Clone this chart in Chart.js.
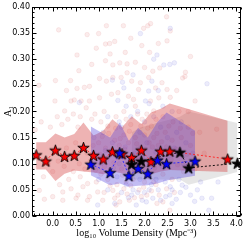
<!DOCTYPE html>
<html><head><meta charset="utf-8">
<script src="https://cdn.jsdelivr.net/npm/chart.js@4/dist/chart.umd.min.js"></script>
<style>html,body{margin:0;padding:0;background:#fff;overflow:hidden}</style>
</head><body><canvas id="c" width="249" height="240"></canvas>
<script>
// ---- data ----
const redX = [-0.36,-0.15,0.06,0.26,0.47,0.67,0.89,1.10,1.30,1.51,1.72,1.93,2.14,2.35,2.55,3.81];
const redY = [0.117,0.105,0.126,0.114,0.116,0.131,0.116,0.109,0.123,0.119,0.112,0.126,0.104,0.124,0.124,0.109];
const redHigh = [0.141,0.141,0.158,0.150,0.157,0.179,0.154,0.163,0.185,0.170,0.191,0.176,0.198,0.205,0.215,0.182];
const redLow  = [0.089,0.089,0.067,0.081,0.087,0.085,0.083,0.080,0.085,0.082,0.080,0.085,0.080,0.085,0.088,0.084];

const blueX = [0.83,1.25,1.46,1.66,1.86,2.07,2.28,2.48,3.10];
const blueY = [0.099,0.083,0.121,0.077,0.091,0.081,0.107,0.100,0.105];
const blueHigh = [0.171,0.150,0.179,0.144,0.169,0.150,0.180,0.198,0.163];
const blueLow  = [0.078,0.059,0.062,0.056,0.058,0.059,0.062,0.068,0.077];

const blackX = [1.72,1.93,2.77,2.96,4.02];
const blackY = [0.099,0.105,0.122,0.092,0.101];
const grayHigh = [0.160,0.170,0.190,0.200,0.178];
const grayLow  = [0.070,0.070,0.070,0.060,0.084];

const redDots = [
[0.13,0.356],[0.75,0.347],[1.00,0.349],[1.17,0.364],[1.15,0.329],[1.24,0.330],[1.35,0.334],[0.95,0.321],[0.53,0.308],[1.54,0.364],
[1.46,0.293],[1.31,0.289],[1.15,0.297],[0.57,0.278],[0.06,0.259],[0.39,0.259],[0.53,0.244],[0.69,0.246],[0.80,0.248],[1.02,0.263],
[1.17,0.258],[1.31,0.265],[1.49,0.265],[0.40,0.220],[0.47,0.222],[0.62,0.220],[0.80,0.220],[1.02,0.226],[1.28,0.233],[1.42,0.236],
[0.73,0.207],[0.26,0.201],[2.48,0.381],[2.13,0.368],[2.07,0.364],[1.98,0.359],[2.56,0.354],[2.49,0.335],[1.94,0.326],[1.58,0.313],
[2.11,0.313],[3.00,0.305],[1.62,0.291],[1.80,0.294],[2.00,0.284],[2.18,0.277],[2.33,0.283],[2.89,0.275],[2.88,0.267],[1.62,0.274],
[1.72,0.258],[1.91,0.255],[2.09,0.265],[2.24,0.245],[2.38,0.255],[2.49,0.242],[1.87,0.242],[1.65,0.229],[1.76,0.223],[2.13,0.220],
[2.31,0.226],[2.56,0.227],[1.80,0.210],[2.20,0.201],[2.83,0.264],
[-0.38,0.165],[-0.25,0.180],[-0.05,0.170],[0.10,0.190],[0.20,0.175],[0.33,0.185],[0.45,0.195],[0.55,0.170],[0.60,0.190],[0.85,0.185],
[0.92,0.195],[1.05,0.180],[1.12,0.200],[1.20,0.172],[1.38,0.190],[1.55,0.200],[1.60,0.185],[1.70,0.175],[1.85,0.195],[1.95,0.185],
[2.05,0.195],[2.15,0.172],[2.25,0.185],[2.40,0.190],[2.62,0.180],[2.75,0.200],[2.95,0.170],[3.20,0.160],[3.57,0.166],[0.30,0.130],
[0.50,0.140],[0.75,0.120],[1.00,0.140],[1.15,0.130],[1.35,0.145],[1.45,0.135],[1.55,0.155],[1.65,0.140],[1.80,0.150],[1.90,0.130],
[2.00,0.155],[2.10,0.140],[2.20,0.150],[2.30,0.135],[2.45,0.160],[2.60,0.145],[2.80,0.150],[3.00,0.135],[3.30,0.120],
[-0.40,0.095],[-0.20,0.075],[0.00,0.085],[0.15,0.060],[0.35,0.070],[0.60,0.075],[0.70,0.090],[0.95,0.065],[1.05,0.080],[1.20,0.070],
[1.40,0.060],[1.50,0.090],[1.60,0.065],[1.75,0.070],[1.85,0.085],[2.00,0.065],[2.10,0.075],[2.25,0.060],[2.40,0.080],[2.60,0.070],
[2.85,0.085],[3.10,0.090],
[-0.18,0.032],[0.00,0.037],[-0.29,0.049],[0.40,0.052],[0.55,0.040],[0.22,0.046],[0.66,0.056],[0.80,0.037],[0.98,0.046],[1.09,0.030],
[1.31,0.049],[1.46,0.027],[1.38,0.021],[0.76,0.062],[0.22,0.030],[0.51,0.034],[0.76,0.030],[1.35,0.034],[1.67,0.030],[1.93,0.037],
[2.55,0.011],[2.40,0.027],[2.27,0.024],
[0.82,0.105],[0.88,0.135],[0.93,0.088],[1.03,0.118],[1.08,0.152],[1.13,0.095],[1.18,0.108],[1.22,0.158],[1.27,0.125],[1.33,0.102],
[1.37,0.168],[1.42,0.112],[1.47,0.148],[1.52,0.078],[1.57,0.128],[1.62,0.098],[1.67,0.162],[1.73,0.118],[1.78,0.088],[1.83,0.138],
[1.88,0.108],[1.92,0.172],[1.97,0.092],[2.02,0.128],[2.07,0.168],[2.12,0.108],[2.17,0.132],[2.22,0.092],[2.27,0.158],[2.32,0.112],
[2.37,0.142],[2.43,0.098],[2.48,0.132],[2.53,0.172],[2.58,0.108],[2.68,0.128],[2.72,0.098],[2.78,0.168],[2.92,0.118],[3.05,0.158],
[1.12,0.045],[1.25,0.058],[1.42,0.040],[1.55,0.052],[1.62,0.042],[1.70,0.058],[1.78,0.035],[1.88,0.050],[1.98,0.055],[2.05,0.040],
[2.15,0.048],[2.20,0.065],[2.32,0.040],[2.48,0.052],[2.65,0.045],[0.45,0.085],[0.25,0.095],[-0.10,0.100],[0.12,0.105],[0.58,0.100],
[0.30,0.240],[0.85,0.290],[1.25,0.310],[1.70,0.340],[2.30,0.330],[2.70,0.240],[3.10,0.220],[2.95,0.200],[0.05,0.220],[-0.30,0.250]
];
const blueDots = [
[0.58,0.217],[1.42,0.221],[1.52,0.256],[1.91,0.349],[2.56,0.359],[2.27,0.308],[2.42,0.289],[2.65,0.293],[2.55,0.290],[3.36,0.253],
[2.16,0.258],[2.09,0.239],[2.30,0.240],[1.55,0.245],[2.02,0.220],[1.85,0.200],
[0.90,0.150],[1.10,0.160],[1.30,0.140],[1.50,0.170],[1.70,0.190],[1.90,0.160],[2.00,0.180],[2.20,0.190],[2.35,0.170],[2.50,0.150],
[2.70,0.160],[2.90,0.140],[1.20,0.190],[1.60,0.210],[2.40,0.210],[2.60,0.200],
[1.00,0.070],[1.20,0.050],[1.40,0.075],[1.50,0.045],[1.60,0.060],[1.75,0.050],[1.90,0.070],[2.00,0.045],[2.15,0.060],[2.30,0.050],
[2.45,0.065],[2.60,0.050],[2.75,0.070],[2.90,0.055],[3.00,0.040],[1.72,0.040],[2.56,0.056],[2.82,0.059],[3.25,0.034],[3.40,0.011],
[2.60,0.024],[3.22,0.065],[3.60,0.065],[1.82,0.021],[2.04,0.027],[2.18,0.034],[1.35,0.024],[2.46,0.037],[2.69,0.032],[3.09,0.028],
[3.46,0.034],[0.98,0.021],
[1.05,0.100],[1.15,0.125],[1.32,0.092],[1.45,0.100],[1.58,0.132],[1.68,0.105],[1.78,0.120],[1.95,0.112],[2.05,0.140],[2.12,0.098],
[2.25,0.122],[2.38,0.095],[2.52,0.115],[2.65,0.130],[2.85,0.100],[3.05,0.120],[1.65,0.035],[1.85,0.045],[2.10,0.050],[2.35,0.030],
[2.55,0.040],[2.25,0.070],[1.95,0.030],[2.78,0.045],[3.15,0.050],[1.45,0.180],[2.10,0.215],[2.80,0.180],[1.30,0.260],[1.75,0.270],
[2.20,0.300]
];

const xTickValues = [0.0,0.5,1.0,1.5,2.0,2.5,3.0,3.5,4.0];
const yTickValues = [0.00,0.05,0.10,0.15,0.20,0.25,0.30,0.35,0.40];

// ---- helpers ----
const pts = (xs, ys) => xs.map((x,i)=>({x:x, y:ys[i]}));
const dots = arr => arr.map(p=>({x:p[0], y:p[1]}));
function starImg(fill, R){
  const s = Math.ceil(2*R+3);
  const c = document.createElement('canvas'); c.width=s; c.height=s;
  const g = c.getContext('2d'); const cx=s/2, cy=s/2+0.6, r=R*0.382;
  g.beginPath();
  for(let i=0;i<10;i++){const a=-Math.PI/2+i*Math.PI/5; const rr=(i%2)?r:R; g.lineTo(cx+rr*Math.cos(a), cy+rr*Math.sin(a));}
  g.closePath(); g.fillStyle=fill; g.fill(); g.lineWidth=0.9; g.strokeStyle='#000'; g.lineJoin='miter'; g.stroke();
  return c;
}
const R = 6;

const datasets = [];
// 0,1 gray band
datasets.push({data: pts(blackX, grayLow), showLine:true, borderWidth:0, pointRadius:0, fill:false, order:20});
datasets.push({data: pts(blackX, grayHigh), showLine:true, borderWidth:0, pointRadius:0, fill:{target:0}, backgroundColor:'rgba(140,140,140,0.22)', order:19});
// 2 red dots, 3 blue dots
datasets.push({data: dots(redDots), pointRadius:2.3, pointBorderWidth:0.5, backgroundColor:'rgba(215,70,70,0.10)', borderColor:'rgba(200,50,50,0.16)', order:18});
datasets.push({data: dots(blueDots), pointRadius:2.3, pointBorderWidth:0.5, backgroundColor:'rgba(70,70,215,0.10)', borderColor:'rgba(50,50,200,0.16)', order:17});
// 4,5 red band
datasets.push({data: pts(redX, redLow), showLine:true, borderWidth:0, pointRadius:0, fill:false, order:16});
datasets.push({data: pts(redX, redHigh), showLine:true, borderWidth:0, pointRadius:0, fill:{target:4}, backgroundColor:'rgba(210,55,55,0.38)', order:15});
// 6,7 blue band
datasets.push({data: pts(blueX, blueLow), showLine:true, borderWidth:0, pointRadius:0, fill:false, order:14});
datasets.push({data: pts(blueX, blueHigh), showLine:true, borderWidth:0, pointRadius:0, fill:{target:6}, backgroundColor:'rgba(75,60,220,0.34)', order:13});
// stars
datasets.push({data: pts(redX, redY), showLine:true, borderColor:'#ff2020', borderWidth:0.9, borderDash:[2,2], pointStyle:starImg('#ff0000',R), pointRadius:R, fill:false, order:3});
datasets.push({data: pts(blackX, blackY), showLine:true, borderColor:'#000', borderWidth:0.9, borderDash:[2,2], pointStyle:starImg('#000000',R), pointRadius:R, fill:false, order:2});
datasets.push({data: pts(blueX, blueY), showLine:true, borderColor:'#2020ff', borderWidth:0.9, borderDash:[2,2], pointStyle:starImg('#0000ff',R), pointRadius:R, fill:false, order:1});

const frame = {
  id:'frame',
  afterDraw(chart){
    const g = chart.ctx, a = chart.chartArea, xs = chart.scales.x, ys = chart.scales.y;
    g.save(); g.strokeStyle='#000'; g.lineWidth=1;
    const L=Math.round(a.left)+0.5, Rr=Math.round(a.right)-0.5, T=Math.round(a.top)+0.5, B=Math.round(a.bottom)-0.5;
    g.strokeRect(L,T,Rr-L,B-T);
    g.beginPath();
    for(let k=-4;k<=41;k++){
      const v=k/10; if(v<xs.min||v>xs.max) continue;
      const px=Math.round(xs.getPixelForValue(v))+0.5; const len=(k%5===0)?4:2;
      g.moveTo(px,B); g.lineTo(px,B-len); g.moveTo(px,T); g.lineTo(px,T+len);
    }
    for(let k=0;k<=40;k++){
      const v=k/100;
      const py=Math.round(ys.getPixelForValue(v))+0.5; const len=(k%5===0)?4:2;
      g.moveTo(L,py); g.lineTo(L+len,py); g.moveTo(Rr,py); g.lineTo(Rr-len,py);
    }
    g.stroke(); g.restore();
  }
};

new Chart(document.getElementById('c'), {
  type:'scatter',
  data:{datasets},
  options:{
    responsive:false, animation:false, devicePixelRatio:1,
    layout:{padding:{top:5,right:8,left:2,bottom:1}},
    plugins:{legend:{display:false}, tooltip:{enabled:false}},
    elements:{line:{tension:0}},
    scales:{
      x:{type:'linear', min:-0.45, max:4.1,
        afterBuildTicks:s=>{s.ticks=xTickValues.map(v=>({value:v}));},
        afterFit:s=>{s.height=23;},
        grid:{display:false, drawTicks:false}, border:{display:false},
        ticks:{padding:3, color:'#000', font:{family:'DejaVu Sans', size:8}, maxRotation:0, callback:v=>Number(v).toFixed(1)},
        title:{display:true, text:'log₁₀ Volume Density (Mpc⁻³)', color:'#000', font:{family:'Liberation Serif', size:10}, padding:{top:0,bottom:0}}
      },
      y:{type:'linear', min:0, max:0.40,
        afterBuildTicks:s=>{s.ticks=yTickValues.map(v=>({value:v}));},
        afterFit:s=>{s.width=30;},
        grid:{display:false, drawTicks:false}, border:{display:false},
        ticks:{padding:2, color:'#000', font:{family:'DejaVu Sans', size:8}, callback:v=>Number(v).toFixed(2)},
        title:{display:true, text:'A₁', color:'#000', font:{family:'Liberation Serif', size:10}, padding:{top:0,bottom:0}}
      }
    }
  },
  plugins:[frame]
});
</script></body></html>
